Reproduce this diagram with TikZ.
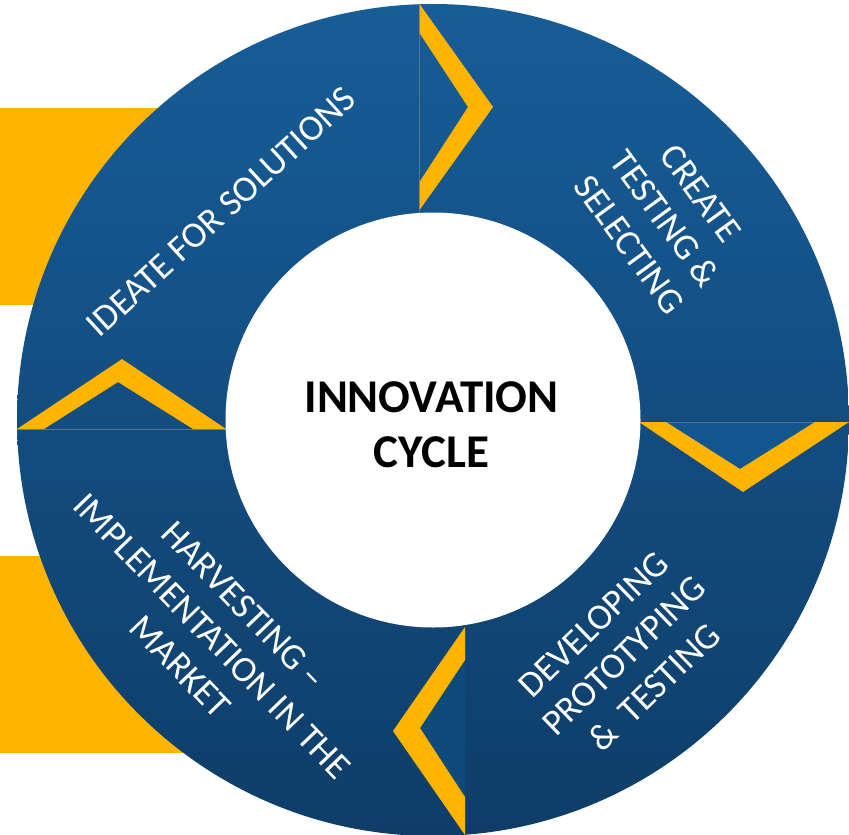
\documentclass[tikz,border=0pt]{standalone}
\usepackage{fontspec}
\setmainfont{Carlito}
\definecolor{cycleyellow}{RGB}{255,180,0}
\definecolor{ringtop}{RGB}{23,93,152}
\definecolor{ringmid}{RGB}{18,80,133}
\definecolor{ringbot}{RGB}{14,61,104}
\definecolor{notchA}{RGB}{17,86,143}
\definecolor{notchB}{RGB}{15,74,124}
\definecolor{seamgray}{RGB}{85,115,140}
\begin{document}
\begin{tikzpicture}[x=1pt,y=-1pt,
  seglabel/.style={text=white, align=center, inner sep=0pt,
    font=\fontsize{36.5}{44}\selectfont},
  hublabel/.style={text=black, align=center, inner sep=0pt,
    font=\bfseries\fontsize{47}{55}\selectfont},
  chev/.style={fill=cycleyellow},
  seam/.style={draw=seamgray, line width=0.8pt}]
\useasboundingbox (0,0) rectangle (849,835);
\coordinate (c) at (433,420);

% yellow tabs behind the ring
\fill[cycleyellow] (0,108) rectangle (250,305);
\fill[cycleyellow] (0,556) rectangle (250,753);

% the ring body
\shade[top color=ringtop, middle color=ringmid, bottom color=ringbot]
  (c) circle[radius=416pt];

% arrow-head areas of the lower segments
\fill[notchA] (666,422) -- (740,469) -- (815,422) -- cycle;
\fill[notchB] (465,660) -- (420,728) -- (465,797) -- cycle;

% seams between segments
\draw[seam] (419.5,4) -- (419.5,213);
\draw[seam] (640,422) -- (849,422);
\draw[seam] (17,429) -- (226,429);

% chevrons at the segment joints
\begin{scope}
  \clip (c) circle[radius=416pt];
  \fill[chev] (419.5,4) -- (493,107) -- (419.5,210) -- (419.5,182)
    -- (468,107) -- (419.5,33) -- cycle;
  \fill[chev] (639,422) -- (743,492) -- (849,422) -- (815,422)
    -- (740,469) -- (666,422) -- cycle;
  \fill[chev] (465,627) -- (393,731) -- (465,835) -- (465,797)
    -- (420,728) -- (465,660) -- cycle;
  \fill[chev] (17,429) -- (122,359) -- (226,429) -- (193,429)
    -- (118,382) -- (44,429) -- cycle;
\end{scope}

% white hub
\fill[white] (c) circle[radius=207.5pt];

% labels
\node[hublabel] (hub) at (431.5,425) {INNOVATION\\CYCLE};
\node[seglabel, rotate=42.5] (ideate) at (221,212) {IDEATE FOR SOLUTIONS};
\node[seglabel, rotate=-54] (create) at (665,219) {CREATE\\TESTING \&\\SELECTING};
\node[seglabel, rotate=44] (develop) at (624,656) {DEVELOPING\\PROTOTYPING\\\&\ \ TESTING};
\node[seglabel, rotate=-46] (harvest) at (212,636) {HARVESTING --\\IMPLEMENTATION IN THE\\MARKET};
\end{tikzpicture}
\end{document}
